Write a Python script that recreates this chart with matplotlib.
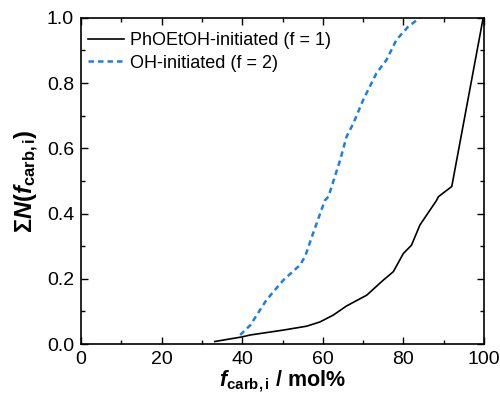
import numpy as np
import matplotlib
matplotlib.use("Agg")
import matplotlib.pyplot as plt
from matplotlib.ticker import MultipleLocator

plt.rcParams["font.family"] = ["Liberation Sans", "DejaVu Sans"]
plt.rcParams["mathtext.fontset"] = "custom"
plt.rcParams["mathtext.rm"] = "Liberation Sans"
plt.rcParams["mathtext.it"] = "Liberation Sans:italic"
plt.rcParams["mathtext.bf"] = "Liberation Sans:bold"
plt.rcParams["mathtext.bfit"] = "Liberation Sans:bold:italic"

# cumulative distribution, PhOEtOH-initiated (f = 1)
f_mono = [33.2, 39.9, 42.0, 50.2, 56.0, 59.3, 62.6, 65.9, 70.9, 75.0, 77.5,
          80.0, 82.0, 84.1, 88.2, 88.7, 92.0, 99.8]
n_mono = [0.008, 0.022, 0.028, 0.043, 0.055, 0.068, 0.089, 0.117, 0.150,
          0.196, 0.222, 0.278, 0.303, 0.365, 0.440, 0.452, 0.483, 1.0]

# cumulative distribution, OH-initiated (f = 2)
f_di = [39.5, 42.0, 46.0, 50.2, 54.3, 55.6, 57.6, 60.5, 61.4, 64.3, 65.9,
        67.6, 70.0, 73.3, 75.8, 78.3, 81.2, 84.1]
n_di = [0.028, 0.058, 0.135, 0.196, 0.242, 0.268, 0.340, 0.440, 0.452, 0.564,
        0.636, 0.677, 0.748, 0.830, 0.871, 0.933, 0.973, 1.0]

fig = plt.figure(figsize=(5.0, 3.96), dpi=100)
ax = fig.add_axes([0.162, 0.131, 0.806, 0.824])

ax.plot(f_mono, n_mono, "-", color="black", lw=1.2,
        label="PhOEtOH-initiated (f = 1)")
ax.plot(f_di, n_di, color="#1a7fe8", lw=1.8, dashes=(2.2, 1.6),
        label="OH-initiated (f = 2)")

ax.set_xlim(0, 100)
ax.set_ylim(0, 1.0)
ax.xaxis.set_major_locator(MultipleLocator(20))
ax.xaxis.set_minor_locator(MultipleLocator(10))
ax.yaxis.set_major_locator(MultipleLocator(0.2))
ax.yaxis.set_minor_locator(MultipleLocator(0.1))
ax.yaxis.set_major_formatter(matplotlib.ticker.FormatStrFormatter("%.1f"))
ax.tick_params(which="both", direction="in", top=True, right=True,
               labelsize=14, width=1.0)
ax.tick_params(which="major", length=5, pad=5)
ax.tick_params(which="minor", length=3)
for s in ax.spines.values():
    s.set_linewidth(1.2)

ax.set_xlabel(r"$\mathbfit{f}_{\mathbf{carb,i}}$ / mol%", fontsize=15.5,
              fontweight="bold", labelpad=0)
ax.set_ylabel(r"Σ$\mathbfit{N}$($\mathbfit{f}_{\mathbf{carb,i}}$)",
              fontsize=17, fontweight="bold", labelpad=4)

ax.legend(loc="upper left", frameon=False, fontsize=13, handlelength=2.0,
          handletextpad=0.35, labelspacing=0.3, borderaxespad=0.3,
          bbox_to_anchor=(-0.015, 0.995))

fig.savefig("out.png", dpi=100)
